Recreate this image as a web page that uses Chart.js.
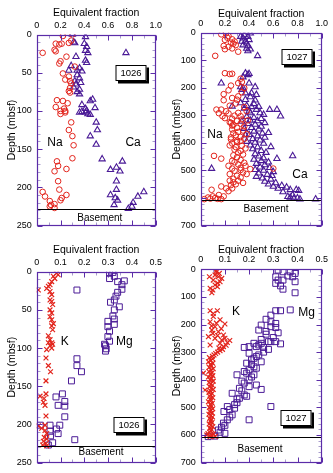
<!DOCTYPE html>
<html><head><meta charset="utf-8">
<script src="https://cdn.jsdelivr.net/npm/chart.js@4.4.1/dist/chart.umd.min.js"></script>
<style>
html,body{margin:0;padding:0;background:#fff;}
#wrap{position:relative;width:333px;height:473px;overflow:hidden;background:#fff;}
canvas{position:absolute;}
</style></head><body>
<div id="wrap">
<canvas id="c1" width="166" height="236" style="left:0px;top:0px"></canvas>
<canvas id="c2" width="167" height="236" style="left:166px;top:0px"></canvas>
<canvas id="c3" width="166" height="237" style="left:0px;top:236px"></canvas>
<canvas id="c4" width="167" height="237" style="left:166px;top:236px"></canvas>
</div>
<script>
// ---------------- DATA: [equivalent fraction, depth (mbsf)] ----------------
const SITES = ['1026', '1027'];
const X_TITLE = 'Equivalent fraction';
const Y_TITLE = 'Depth (mbsf)';
const BASEMENT = [228, 607];

const na1026 = [[0.30,0],[0.22,2],[0.29,8],[0.27,11],[0.16,12],[0.19,13],[0.21,12],[0.15,20],[0.16,22],[0.05,24],[0.25,29],[0.20,35],[0.19,38],[0.32,42],[0.22,51],[0.27,55],[0.24,59],[0.28,61],[0.29,64],[0.28,70],[0.27,74],[0.28,76],[0.17,86],[0.22,87],[0.26,90],[0.16,95],[0.23,97],[0.20,100],[0.24,100],[0.20,104],[0.24,102],[0.29,115],[0.27,125],[0.30,133],[0.31,145],[0.30,162],[0.17,166],[0.15,179],[0.18,172],[0.25,176],[0.18,192],[0.19,203],[0.25,210],[0.21,214],[0.20,217],[0.05,206],[0.07,212],[0.11,218],[0.15,222],[0.11,225],[0.15,227],[0.12,223]];
const ca1026 = [[0.30,0],[0.41,3],[0.31,10],[0.32,11],[0.40,12],[0.42,16],[0.41,21],[0.43,24],[0.75,24],[0.33,29],[0.41,34],[0.42,37],[0.29,41],[0.36,44],[0.34,47],[0.27,47],[0.38,48],[0.34,53],[0.36,57],[0.32,61],[0.37,63],[0.33,65],[0.31,69],[0.36,72],[0.34,75],[0.36,78],[0.47,85],[0.45,87],[0.38,92],[0.49,96],[0.41,97],[0.42,100],[0.36,102],[0.38,101],[0.41,102],[0.43,104],[0.45,105],[0.50,115],[0.51,125],[0.45,133],[0.50,144],[0.55,163],[0.62,177],[0.67,174],[0.70,179],[0.72,166],[0.67,192],[0.67,203],[0.62,210],[0.66,214],[0.68,217],[0.65,223],[0.90,206],[0.85,212],[0.81,220],[0.80,225],[0.77,228]];
const na1027 = [[0.17,6],[0.21,2],[0.23,12],[0.26,24],[0.20,26],[0.25,36],[0.28,32],[0.19,48],[0.23,51],[0.29,45],[0.20,60],[0.26,57],[0.31,69],[0.12,84],[0.22,18],[0.27,40],
[0.20,147],[0.24,150],[0.26,149],[0.33,167],[0.31,183],[0.34,179],[0.25,192],[0.23,209],[0.19,223],[0.26,237],[0.19,245],[0.31,231],[0.30,243],[0.34,216],[0.13,279],[0.17,279],[0.23,293],[0.28,301],[0.18,303],[0.31,291],[0.33,303],[0.36,201],[0.29,257],[0.24,265],[0.36,270],[0.21,285],[0.38,285],[0.15,292],
[0.20,310],[0.26,312],[0.34,315],[0.30,320],[0.39,318],[0.24,325],[0.25,327],[0.33,330],[0.27,335],[0.26,337],[0.36,340],[0.30,345],[0.26,351],[0.35,355],[0.31,360],[0.27,365],[0.38,368],[0.29,372],[0.33,378],[0.25,380],[0.36,385],[0.25,387],[0.30,392],[0.33,393],[0.30,397],[0.26,402],[0.24,409],[0.34,410],[0.29,415],[0.28,424],[0.37,420],[0.33,429],[0.31,435],[0.11,447],[0.27,445],[0.35,442],[0.17,457],[0.30,452],[0.26,465],[0.33,462],[0.28,470],[0.36,472],[0.23,483],[0.31,478],[0.37,483],[0.26,493],[0.33,490],[0.41,495],[0.60,493],[0.28,501],[0.33,498],[0.35,507],[0.24,513],[0.38,513],[0.30,519],[0.33,525],[0.27,530],[0.24,537],[0.31,537],[0.27,543],[0.35,545],[0.25,553],[0.29,550],[0.17,558],[0.21,565],[0.26,565],[0.09,570],[0.23,575],[0.15,589],[0.10,594],[0.19,594],[0.06,598],[0.03,604],[0.17,604],[0.12,600],[0.08,602],[0.14,603]];
const ca1027 = [[0.41,2],[0.33,14],[0.35,20],[0.39,14],[0.34,32],[0.37,32],[0.40,26],[0.35,45],[0.39,48],[0.38,57],[0.41,60],[0.39,66],[0.47,84],[0.36,8],[0.38,38],
[0.37,147],[0.39,153],[0.40,149],[0.35,161],[0.17,183],[0.33,197],[0.35,201],[0.34,207],[0.40,183],[0.45,197],[0.37,219],[0.42,219],[0.41,233],[0.46,225],[0.37,243],[0.45,245],[0.33,255],[0.38,265],[0.42,269],[0.26,267],[0.46,279],[0.49,291],[0.52,297],[0.57,279],[0.63,279],[0.66,303],[0.41,291],[0.44,258],[0.36,275],[0.40,285],[0.48,268],
[0.38,305],[0.44,308],[0.50,312],[0.41,318],[0.47,320],[0.53,327],[0.39,330],[0.45,333],[0.50,340],[0.42,345],[0.48,350],[0.56,363],[0.44,358],[0.51,365],[0.40,370],[0.47,375],[0.53,380],[0.43,385],[0.49,390],[0.45,398],[0.52,402],[0.41,408],[0.58,414],[0.47,415],[0.43,422],[0.50,428],[0.54,435],[0.45,440],[0.76,447],[0.48,448],[0.63,457],[0.52,455],[0.44,460],[0.50,465],[0.56,470],[0.46,475],[0.53,480],[0.09,493],[0.49,488],[0.57,490],[0.45,497],[0.52,500],[0.60,505],[0.48,510],[0.55,515],[0.59,519],[0.46,522],[0.51,528],[0.58,532],[0.53,540],[0.62,545],[0.56,550],[0.67,555],[0.60,558],[0.71,561],[0.64,565],[0.74,570],[0.79,570],[0.81,573],[0.68,578],[0.76,589],[0.74,598],[0.77,601],[0.82,604],[0.95,604],[0.72,595],[0.80,600],[0.34,322],[0.36,348],[0.37,372],[0.38,395]];
const k1026 = [[0.083,2],[0.09,4],[0.07,6],[0.076,9],[0.063,13],[0.056,17],[0.049,19],[0.042,22],[0.007,24],[0.056,26],[0.063,30],[0.056,37],[0.063,39],[0.067,43],[0.056,50],[0.063,54],[0.056,59],[0.063,63],[0.07,68],[0.063,71],[0.067,76],[0.049,84],[0.056,89],[0.063,93],[0.049,93],[0.056,97],[0.063,100],[0.067,95],[0.042,102],[0.039,113],[0.049,123],[0.058,131],[0.039,143],[0.039,160],[0.014,163],[0.031,166],[0.028,171],[0.035,175],[0.039,189],[0.007,202],[0.021,205],[0.035,201],[0.035,208],[0.042,212],[0.032,217],[0.042,219],[0.028,222],[0.039,225],[0.025,227],[0.042,228]];
const mg1026 = [[0.306,2],[0.32,1],[0.326,6],[0.306,9],[0.368,12],[0.34,13],[0.358,17],[0.358,23],[0.169,24],[0.34,27],[0.333,32],[0.326,37],[0.31,40],[0.347,46],[0.326,50],[0.32,58],[0.326,62],[0.299,65],[0.326,69],[0.299,72],[0.306,78],[0.299,85],[0.306,91],[0.285,95],[0.289,97],[0.292,101],[0.289,104],[0.169,114],[0.169,123],[0.188,131],[0.146,143],[0.108,160],[0.081,164],[0.118,170],[0.118,176],[0.09,175],[0.118,190],[0.097,201],[0.083,206],[0.056,209],[0.09,212],[0.058,215],[0.16,220],[0.067,224],[0.049,227],[0.015,201],[0.056,201]];
const k1027 = [[0.063,5],[0.036,27],[0.073,27],[0.052,39],[0.08,45],[0.059,57],[0.069,63],[0.05,75],[0.046,85],[0.039,69],[0.077,15],[0.059,21],[0.087,33],[0.065,10],[0.07,50],
[0.039,150],[0.069,150],[0.052,160],[0.052,171],[0.08,183],[0.039,190],[0.1,198],[0.059,208],[0.046,220],[0.073,226],[0.094,238],[0.032,244],[0.059,250],[0.087,256],[0.08,268],[0.039,274],[0.094,280],[0.11,265],[0.12,258],[0.105,275],[0.07,240],[0.05,232],[0.065,195],[0.045,205],[0.085,215],[0.09,290],[0.08,295],[0.07,300],[0.062,305],[0.055,310],[0.075,285],[0.1,250],
[0.048,315],[0.036,320],[0.05,325],[0.042,330],[0.032,335],[0.05,340],[0.04,345],[0.045,350],[0.035,355],[0.052,360],[0.042,365],[0.034,370],[0.011,376],[0.047,375],[0.039,380],[0.05,385],[0.032,390],[0.045,395],[0.038,400],[0.052,405],[0.035,410],[0.042,415],[0.048,420],[0.037,425],[0.044,430],[0.018,437],[0.052,435],[0.04,440],[0.034,445],[0.047,450],[0.042,455],[0.037,460],[0.05,465],[0.039,470],[0.044,475],[0.032,480],[0.048,485],[0.04,490],[0.045,495],[0.036,500],[0.05,505],[0.042,510],[0.038,515],[0.047,520],[0.034,525],[0.042,530],[0.049,535],[0.037,540],[0.044,545],[0.04,550],[0.047,555],[0.035,560],[0.042,565],[0.05,570],[0.038,575],[0.045,580],[0.042,585],[0.037,590],[0.025,600],[0.039,606],[0.052,596],[0.047,603],[0.03,595],[0.06,605]];
const mg1027 = [[0.32,3],[0.34,9],[0.37,9],[0.39,15],[0.36,24],[0.31,27],[0.38,27],[0.32,39],[0.34,39],[0.39,45],[0.31,51],[0.33,60],[0.34,72],[0.39,85],[0.31,150],[0.33,150],[0.37,147],[0.29,166],[0.27,181],[0.29,190],[0.31,196],[0.25,202],[0.29,208],[0.31,211],[0.24,220],[0.27,235],[0.30,247],[0.25,254],[0.28,262],[0.22,268],[0.24,274],[0.18,283],[0.20,280],[0.26,283],[0.20,304],[0.23,280],[0.25,268],[0.29,262],[0.31,262],[0.23,316],[0.21,328],[0.19,340],[0.22,353],[0.18,370],[0.20,364],[0.22,382],[0.15,382],[0.20,400],[0.18,412],[0.23,419],[0.16,431],[0.25,435],[0.13,449],[0.18,455],[0.16,467],[0.15,483],[0.11,497],[0.14,503],[0.29,497],[0.096,515],[0.13,527],[0.11,545],[0.20,545],[0.094,557],[0.086,572],[0.073,582],[0.10,594],[0.059,604],[0.031,606],[0.26,300],[0.24,310],[0.22,322],[0.25,335],[0.21,345],[0.23,358],[0.19,376],[0.21,390],[0.17,405],[0.20,425],[0.17,440],[0.19,460],[0.15,470],[0.14,490],[0.12,508],[0.12,535],[0.10,565],[0.08,590],[0.28,290],[0.33,270],[0.27,225],[0.32,230]];

// ---------------- STYLE / LAYOUT ----------------
const RED = '#e2241c', PURPLE = '#4a1a96', FRAME = '#5b2ca8', MINOR = '#a89ccc';
const FONT = '"Liberation Sans", Arial, Helvetica, sans-serif';
const MARK = {
  circle:   {pointStyle:'circle',   radius:2.8, borderWidth:1},
  triangle: {pointStyle:'triangle', radius:3.6, borderWidth:1.1},
  cross:    {pointStyle:'crossRot', radius:3.4, borderWidth:1.2},
  square:   {pointStyle:'rect',     radius:4.2, borderWidth:1}
};

const panels = [
  {id:'c1', w:166, h:236, left:36.7, right:155.7, top:34.5, bottom:225.5, xMax:1, xStep:0.2, xMinor:0.1, yMax:250, yStep:50, yMinor:10,
   basement:BASEMENT[0], xTitlePad:7.2, yTitlePad:5.4, site:SITES[0], box:[0.795,50], baseLabel:[0.53,240],
   series:[[na1026,'circle',RED],[ca1026,'triangle',PURPLE]], labels:[['Na',0.154,141],['Ca',0.81,142]]},
  {id:'c2', w:167, h:236, left:34.7, right:155.7, top:32.7, bottom:226.7, xMax:1, xStep:0.2, xMinor:0.1, yMax:700, yStep:100, yMinor:20,
   basement:BASEMENT[1], xTitlePad:7.4, yTitlePad:4.4, site:SITES[1], box:[0.793,88], baseLabel:[0.54,642],
   series:[[na1027,'circle',RED],[ca1027,'triangle',PURPLE]], labels:[['Na',0.118,369],['Ca',0.82,517]]},
  {id:'c3', w:166, h:237, left:36.7, right:156.7, top:35.7, bottom:228, xMax:0.5, xStep:0.1, xMinor:0.05, yMax:250, yStep:50, yMinor:10,
   basement:BASEMENT[0], xTitlePad:7.7, yTitlePad:6.2, site:SITES[0], box:[0.387,201], baseLabel:[0.27,237],
   series:[[k1026,'cross',RED],[mg1026,'square',PURPLE]], labels:[['K',0.118,92],['Mg',0.368,91]]},
  {id:'c4', w:167, h:237, left:34.7, right:155.7, top:33.3, bottom:226.7, xMax:0.5, xStep:0.1, xMinor:0.05, yMax:700, yStep:100, yMinor:20,
   basement:BASEMENT[1], xTitlePad:8, yTitlePad:4.4, site:SITES[1], box:[0.395,540], baseLabel:[0.245,650],
   series:[[k1027,'cross',RED],[mg1027,'square',PURPLE]], labels:[['K',0.146,153],['Mg',0.438,158]]}
];

const decorPlugin = {
  id:'decor',
  afterDatasetsDraw(chart){
    const cfg = chart.options.plugins.decor;
    const {ctx, chartArea:a, scales:{x, y}} = chart;
    const L = Math.round(a.left)+0.5, R = Math.round(a.right)-0.5, T = Math.round(a.top)+0.5, B = Math.round(a.bottom)-0.5;
    ctx.save();
    // basement line
    const by = Math.round(y.getPixelForValue(cfg.basement))+0.5;
    ctx.strokeStyle = '#000'; ctx.lineWidth = 1;
    ctx.beginPath(); ctx.moveTo(L, by); ctx.lineTo(R, by); ctx.stroke();
    ctx.fillStyle = '#000';
    ctx.font = '10px ' + FONT; ctx.textAlign = 'center'; ctx.textBaseline = 'middle';
    ctx.fillText('Basement', x.getPixelForValue(cfg.baseLabel[0]), y.getPixelForValue(cfg.baseLabel[1]));
    // species labels
    ctx.font = '12px ' + FONT;
    cfg.labels.forEach(l => ctx.fillText(l[0], x.getPixelForValue(l[1]), y.getPixelForValue(l[2])));
    // site box
    const bx = Math.round(x.getPixelForValue(cfg.box[0])), byy = Math.round(y.getPixelForValue(cfg.box[1]));
    const bw = 31, bh = 16;
    const x0 = bx - bw/2, y0 = byy - bh/2;
    ctx.fillStyle = '#000'; ctx.fillRect(x0+2.5, y0+2.5, bw, bh);
    ctx.fillStyle = '#fff'; ctx.fillRect(x0, y0, bw, bh);
    ctx.strokeStyle = '#000'; ctx.lineWidth = 1; ctx.strokeRect(x0+0.5, y0+0.5, bw-1, bh-1);
    ctx.fillStyle = '#000'; ctx.font = '9.5px ' + FONT;
    ctx.fillText(cfg.site, bx, byy+0.5);
    // inward ticks
    const nx = Math.round(cfg.xMax/cfg.xMinor), kx = Math.round(cfg.xStep/cfg.xMinor);
    for (let i=0;i<=nx;i++){
      const major = i%kx===0, len = major?5:3;
      const px = Math.round(x.getPixelForValue(i*cfg.xMinor))+0.5;
      ctx.strokeStyle = major?FRAME:MINOR;
      ctx.beginPath(); ctx.moveTo(px,T); ctx.lineTo(px,T+len); ctx.moveTo(px,B); ctx.lineTo(px,B-len); ctx.stroke();
    }
    const ny = Math.round(cfg.yMax/cfg.yMinor), ky = Math.round(cfg.yStep/cfg.yMinor);
    for (let i=0;i<=ny;i++){
      const major = i%ky===0, len = major?5:3;
      const py = Math.round(y.getPixelForValue(i*cfg.yMinor))+0.5;
      ctx.strokeStyle = major?FRAME:MINOR;
      ctx.beginPath(); ctx.moveTo(L,py); ctx.lineTo(L+len,py); ctx.moveTo(R,py); ctx.lineTo(R-len,py); ctx.stroke();
    }
    // frame
    ctx.strokeStyle = FRAME; ctx.lineWidth = 1.2;
    ctx.strokeRect(L, T, R-L, B-T);
    ctx.restore();
  }
};

panels.forEach(cfg => {
  const datasets = cfg.series.map(([pts, mk, col]) => Object.assign({
    data: pts.map(p => ({x:p[0], y:p[1]})),
    borderColor: col, backgroundColor: 'rgba(0,0,0,0)', pointBackgroundColor:'rgba(0,0,0,0)',
    showLine:false
  }, {pointStyle:MARK[mk].pointStyle, pointRadius:MARK[mk].radius, pointBorderWidth:MARK[mk].borderWidth, pointHoverRadius:MARK[mk].radius}));
  new Chart(document.getElementById(cfg.id), {
    type:'scatter',
    data:{datasets},
    plugins:[decorPlugin],
    options:{
      responsive:false, animation:false, devicePixelRatio:1,
      layout:{padding:{left:0, top:0, right:cfg.w-cfg.right, bottom:cfg.h-cfg.bottom}},
      plugins:{legend:{display:false}, tooltip:{enabled:false}, decor:cfg},
      scales:{
        x:{type:'linear', position:'top', min:0, max:cfg.xMax,
           grid:{display:false, drawTicks:false}, border:{display:false},
           ticks:{stepSize:cfg.xStep, autoSkip:false, maxRotation:0, minRotation:0, padding:4, color:'#000', font:{family:FONT, size:9}},
           title:{display:true, text:X_TITLE, color:'#000', font:{family:FONT, size:10.5}, padding:{top:cfg.xTitlePad, bottom:0}},
           afterFit(s){ s.height = cfg.top; }},
        y:{type:'linear', position:'left', reverse:true, min:0, max:cfg.yMax,
           grid:{display:false, drawTicks:false}, border:{display:false},
           ticks:{stepSize:cfg.yStep, autoSkip:false, padding:5, color:'#000', font:{family:FONT, size:9}},
           title:{display:true, text:Y_TITLE, color:'#000', font:{family:FONT, size:10.5}, padding:{top:cfg.yTitlePad, bottom:0}},
           afterFit(s){ s.width = cfg.left; }}
      }
    }
  });
});
</script>
</body></html>
